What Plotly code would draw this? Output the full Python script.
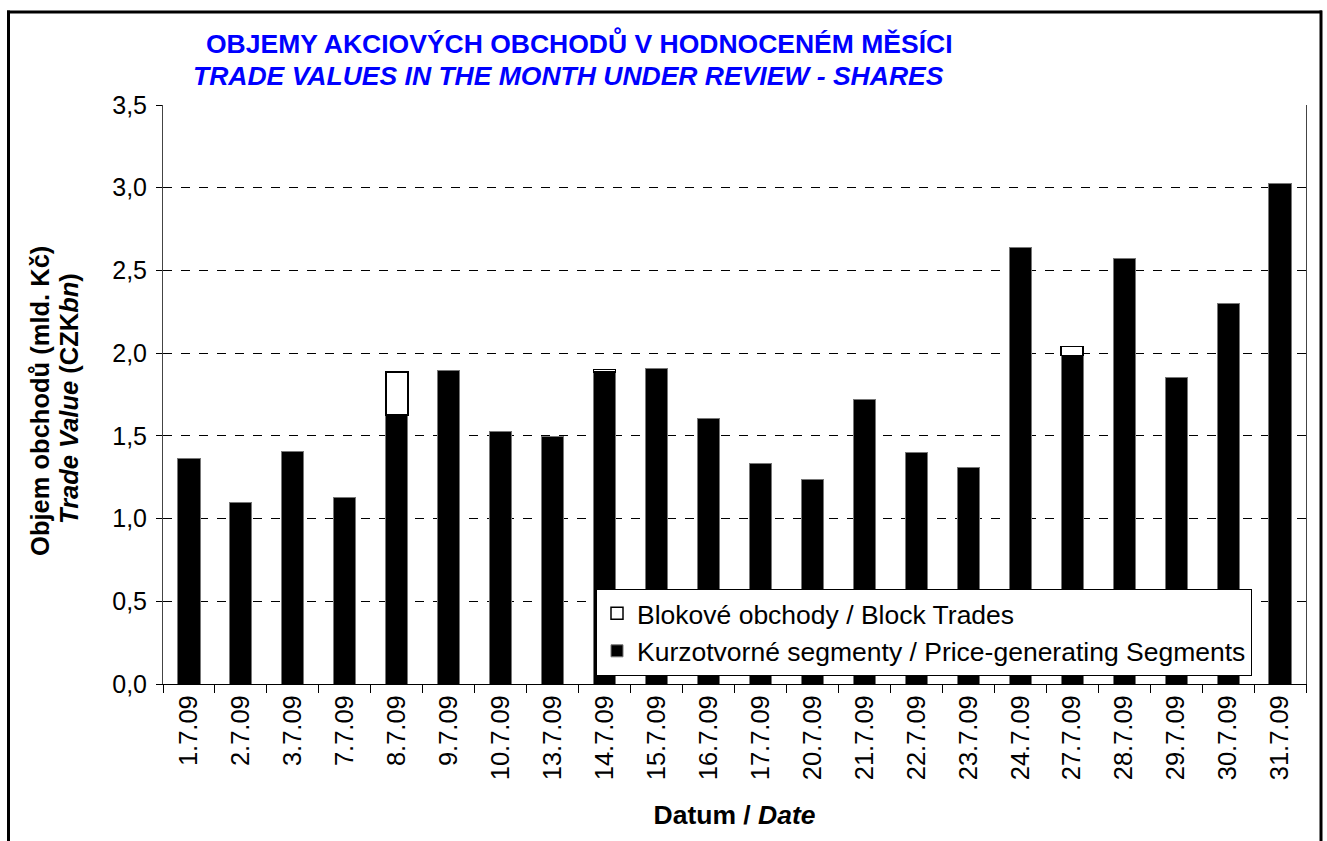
import plotly.graph_objects as go

dates = ["1.7.09", "2.7.09", "3.7.09", "7.7.09", "8.7.09", "9.7.09", "10.7.09",
         "13.7.09", "14.7.09", "15.7.09", "16.7.09", "17.7.09", "20.7.09", "21.7.09",
         "22.7.09", "23.7.09", "24.7.09", "27.7.09", "28.7.09", "29.7.09", "30.7.09",
         "31.7.09"]
price_generating = [1.365, 1.10, 1.405, 1.13, 1.625, 1.895, 1.525, 1.495, 1.885, 1.905,
                    1.605, 1.33, 1.235, 1.72, 1.40, 1.31, 2.64, 1.985, 2.575, 1.85,
                    2.30, 3.025]
block_trades = [None, None, None, None, 0.26, None, None, None, 0.015, None, None, None,
                None, None, None, None, None, 0.055, None, None, None, None]
y_ticks = [0, 0.5, 1.0, 1.5, 2.0, 2.5, 3.0, 3.5]
y_tick_labels = ["0,0", "0,5", "1,0", "1,5", "2,0", "2,5", "3,0", "3,5"]

W, H = 1327, 841
L, R, T, B = 163, 1306, 104.6, 684.5
pw, ph = R - L, B - T

def px_x(x):
    return (x - L) / pw

def px_y(y):
    return (B - y) / ph

FONT = "Liberation Sans, Arial, sans-serif"

fig = go.Figure()
fig.add_trace(go.Bar(
    x=dates, y=price_generating,
    name="Kurzotvorné segmenty / Price-generating Segments",
    marker=dict(color="black", line=dict(color="#777777", width=1)),
))
fig.add_trace(go.Bar(
    x=dates, y=block_trades,
    name="Blokové obchody / Block Trades",
    marker=dict(color="white", line=dict(color="black", width=1.5)),
))

fig.update_layout(
    width=W, height=H,
    barmode="stack", bargap=0.575,
    paper_bgcolor="white", plot_bgcolor="white",
    margin=dict(l=L, r=W - R, t=T, b=H - B, autoexpand=False),
    font=dict(family=FONT, size=22, color="black"),
    showlegend=True,
    legend=dict(
        x=px_x(596), y=px_y(589), xanchor="left", yanchor="top",
        bgcolor="white", bordercolor="black", borderwidth=1,
        traceorder="reversed",
        font=dict(family=FONT, size=26.5, color="black"),
        tracegroupgap=0,
    ),
    xaxis=dict(
        type="category",
        tickangle=-90,
        ticks="outside", ticklen=8, tickcolor="black", tickson="boundaries",
        showline=True, linecolor="black", linewidth=1,
        showgrid=False,
        tickfont=dict(family=FONT, size=25.5),
        title=dict(text="<b>Datum / <i>Date</i></b>", font=dict(family=FONT, size=26.5), standoff=26),
    ),
    yaxis=dict(
        range=[0, 3.5],
        tickvals=y_ticks, ticktext=y_tick_labels,
        ticks="outside", ticklen=6, tickcolor="black",
        showline=True, linecolor="#444444", linewidth=1, mirror=True,
        showgrid=True, gridcolor="black", griddash="dash", gridwidth=1,
        zeroline=False,
        tickfont=dict(family=FONT, size=25),
        ticklabelstandoff=4,
    ),
    annotations=[
        dict(text="<b>OBJEMY AKCIOVÝCH OBCHODŮ V HODNOCENÉM MĚSÍCI</b>",
             xref="paper", yref="paper", x=px_x(579), y=px_y(43),
             xanchor="center", yanchor="middle", showarrow=False,
             font=dict(family=FONT, size=26.5, color="#0000FF")),
        dict(text="<b><i>TRADE VALUES IN THE MONTH UNDER REVIEW - SHARES</i></b>",
             xref="paper", yref="paper", x=px_x(568), y=px_y(76),
             xanchor="center", yanchor="middle", showarrow=False,
             font=dict(family=FONT, size=26.5, color="#0000FF")),
        dict(text="<b>Objem obchodů (mld. Kč)</b>",
             xref="paper", yref="paper", x=px_x(40), y=px_y(401),
             xanchor="center", yanchor="middle", showarrow=False, textangle=-90,
             font=dict(family=FONT, size=25.5, color="black")),
        dict(text="<b><i>Trade Value</i> (CZK<i>bn</i>)</b>",
             xref="paper", yref="paper", x=px_x(69), y=px_y(399),
             xanchor="center", yanchor="middle", showarrow=False, textangle=-90,
             font=dict(family=FONT, size=25.5, color="black")),
    ],
    shapes=[
        dict(type="line", xref="paper", yref="paper", x0=px_x(7), x1=px_x(1322),
             y0=px_y(11.5), y1=px_y(11.5), line=dict(color="black", width=3)),
        dict(type="line", xref="paper", yref="paper", x0=px_x(8.5), x1=px_x(8.5),
             y0=px_y(10), y1=px_y(860), line=dict(color="black", width=3)),
        dict(type="line", xref="paper", yref="paper", x0=px_x(1321), x1=px_x(1321),
             y0=px_y(10), y1=px_y(860), line=dict(color="black", width=3)),
    ],
)

fig.write_html("out.html", config={"displayModeBar": False},
               post_script="document.body.style.margin='0px';document.body.style.padding='0px';")
